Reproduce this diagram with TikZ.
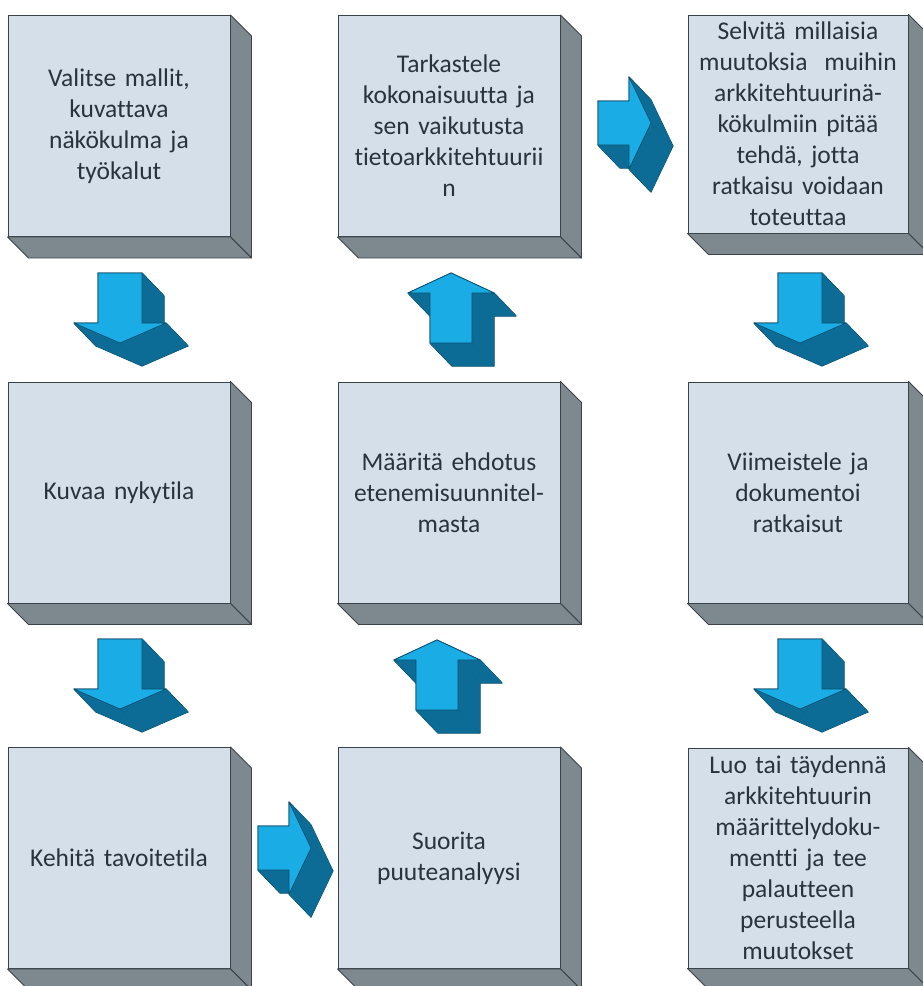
\documentclass[tikz,border=0pt]{standalone}
\usepackage{fontspec}
\setmainfont{Carlito}[Ligatures=NoCommon]
\usetikzlibrary{calc}

\definecolor{boxfront}{HTML}{D5DFE9}
\definecolor{boxside}{HTML}{7E888F}
\definecolor{boxline}{HTML}{3B4248}
\definecolor{boxtext}{HTML}{2A333D}
\definecolor{arrfront}{HTML}{1AACE5}
\definecolor{arrside}{HTML}{0C6C96}
\definecolor{arrline}{HTML}{0A4A68}

\tikzset{
  stepbox/.style={draw=boxline, line width=0.9pt, fill=boxfront,
    minimum width=222pt, minimum height=221pt, inner sep=0pt,
    text width=216pt, align=center, text=boxtext,
    font=\fontsize{25.5}{31}\selectfont},
  slab/.style={fill=boxside, draw=boxline, line width=0.9pt, line join=round},
  arrowrim/.style={fill=arrside, draw=arrline, line width=1pt, line join=round},
  arrowside/.style={fill=arrside},
  arrowface/.style={fill=arrfront, draw=arrline, line width=0.6pt, line join=round},
}

% right and bottom faces of a raised box node
\newcommand\boxslab[1]{%
  \filldraw[slab] (#1.north east) -- ++(21,21) -- ($(#1.south east)+(21,21)$) -- (#1.south east) -- cycle;
  \filldraw[slab] (#1.south west) -- ++(21,21) -- ($(#1.south east)+(21,21)$) -- (#1.south east) -- cycle;
}

% extruded block arrow: #1 origin, #2/#3 last vertex, #4 vertex list x/y
\newcommand\blockarrow[4]{%
  \begin{scope}[shift={#1}]
    \foreach \x/\y [remember=\x as \lx (initially #2), remember=\y as \ly (initially #3)] in {#4}
      {\filldraw[arrowrim] (\lx,\ly) -- (\x,\y) -- (\x+22,\y+23) -- (\lx+22,\ly+23) -- cycle;}
    \foreach \x/\y [remember=\x as \lx (initially #2), remember=\y as \ly (initially #3)] in {#4}
      {\fill[arrowside] (\lx,\ly) -- (\x,\y) -- (\x+22,\y+23) -- (\lx+22,\ly+23) -- cycle;}
    \filldraw[arrowface] (#2,#3) \foreach \x/\y in {#4} {-- (\x,\y)} -- cycle;
  \end{scope}}

\newcommand\arrowdown[1]{\blockarrow{#1}{0}{50}{0/0,44/0,44/50,68/50,22/70,-24/50,0/50}}
\newcommand\arrowup[1]{\blockarrow{#1}{0}{0}{0/-50,-22/-50,21/-70,64/-50,42/-50,42/0,0/0}}
\newcommand\arrowright[1]{\blockarrow{#1}{0}{44}{0/0,31/0,31/-24,53/22,31/68,31/44,0/44}}

\begin{document}
\begin{tikzpicture}[x=1pt, y=-1pt]
  \useasboundingbox (0,0) rectangle (923,986);
  \fill[white] (0,0) rectangle (923,986);
  \clip (0,0) rectangle (923,986);

  % process steps
  \node[stepbox] (b1) at (119,126) {Valitse mallit,\\kuvattava\\näkökulma ja\\työkalut};
  \node[stepbox] (b2) at (449,126) {Tarkastele\\kokonaisuutta ja\\sen vaikutusta\\tietoarkkitehtuurii\\n};
  \node[stepbox, minimum width=220pt, minimum height=218pt] (b3) at (798,124)
    {Selvitä millaisia\\muutoksia\ \ muihin\\arkkitehtuurinä-\\kökulmiin pitää\\tehdä, jotta\\ratkaisu voidaan\\toteuttaa};
  \node[stepbox] (b4) at (119,492.5) {Kuvaa nykytila};
  \node[stepbox] (b5) at (449,492.5) {Määritä ehdotus\\etenemisuunnitel-\\masta};
  \node[stepbox, minimum width=220pt] (b6) at (798,492.5) {Viimeistele ja\\dokumentoi\\ratkaisut};
  \node[stepbox] (b7) at (119,858) {Kehitä tavoitetila};
  \node[stepbox] (b8) at (449,858) {Suorita\\puuteanalyysi};
  \node[stepbox, minimum width=220pt, minimum height=220pt] (b9) at (798,858)
    {Luo tai täydennä\\arkkitehtuurin\\määrittelydoku-\\mentti ja tee\\palautteen\\perusteella\\muutokset};

  \foreach \b in {b1,b2,b3,b4,b5,b6,b7,b8,b9} {\boxslab{\b}}

  % flow arrows
  \arrowdown{(98,273)}
  \arrowdown{(98,639)}
  \arrowright{(258,826)}
  \arrowup{(416,710)}
  \arrowup{(430,343)}
  \arrowright{(598,101)}
  \arrowdown{(778,273)}
  \arrowdown{(778,639)}
\end{tikzpicture}
\end{document}
